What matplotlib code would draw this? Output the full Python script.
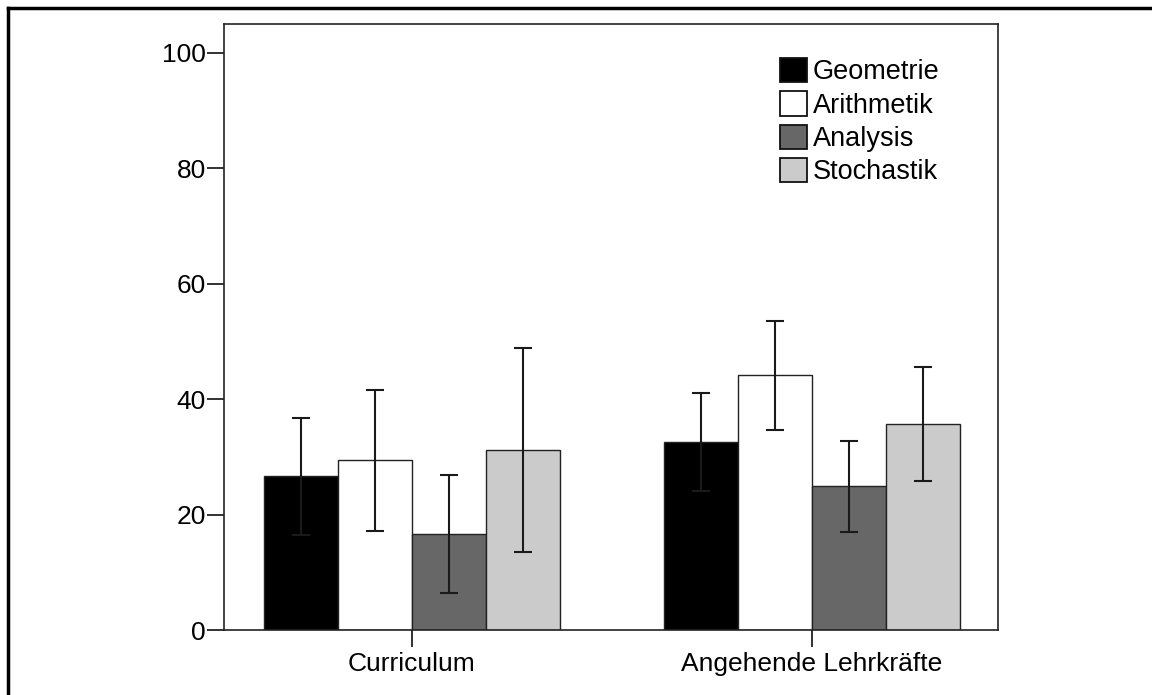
import numpy as np
import matplotlib.pyplot as plt
from matplotlib.lines import Line2D

plt.rcParams['font.family'] = ['Liberation Sans', 'DejaVu Sans']

# Daten
gruppen = ['Curriculum', 'Angehende Lehrkräfte']
bereiche = ['Geometrie', 'Arithmetik', 'Analysis', 'Stochastik']
farben = ['#000000', '#ffffff', '#676767', '#cbcbcb']

mittel_curr = [26.6, 29.4, 16.6, 31.2]
fehler_curr = [10.2, 12.2, 10.2, 17.6]
mittel_lehr = [32.5, 44.1, 24.9, 35.7]
fehler_lehr = [8.5, 9.5, 7.9, 9.9]

mittel = np.array([mittel_curr, mittel_lehr])
fehler = np.array([fehler_curr, fehler_lehr])

fig = plt.figure(figsize=(11.52, 6.95), dpi=100)
ax = fig.add_axes([0.1944, 0.0935, 0.6719, 0.872])

x = np.arange(len(gruppen))
b = 0.185
for i, name in enumerate(bereiche):
    pos = x + (i - 1.5) * b
    ax.bar(pos, mittel[:, i], width=b, color=farben[i], edgecolor='#222222',
           linewidth=1.0, label=name, zorder=2)
    ax.errorbar(pos, mittel[:, i], yerr=fehler[:, i], fmt='none', ecolor='#1a1a1a',
                elinewidth=1.5, capsize=6.5, capthick=1.5, zorder=3)

ax.set_xlim(-0.47, 1.465)
ax.set_ylim(0, 105)
ax.set_yticks([0, 20, 40, 60, 80, 100])
ax.set_xticks(x)
ax.set_xticklabels(gruppen)
ax.tick_params(axis='both', labelsize=19, length=12, width=1.3, color='#222222')
ax.tick_params(axis='y', pad=1)
ax.tick_params(axis='x', pad=4)
for s in ax.spines.values():
    s.set_linewidth(1.2)
    s.set_color('#222222')

leg = ax.legend(loc='upper left', bbox_to_anchor=(0.718, 0.944), frameon=False,
                fontsize=19.5, handlelength=1.0, handleheight=1.0, handletextpad=0.22,
                labelspacing=0.22, borderpad=0, borderaxespad=0)
for p in leg.get_patches():
    p.set_edgecolor('#111111')
    p.set_linewidth(1.3)

# Rahmen oben und links
fig.add_artist(Line2D([0.0069, 1.0], [0.989, 0.989], color='black', lw=2.5, transform=fig.transFigure))
fig.add_artist(Line2D([0.0069, 0.0069], [0.0, 0.989], color='black', lw=2.5, transform=fig.transFigure))

fig.savefig('out.png', dpi=100)
